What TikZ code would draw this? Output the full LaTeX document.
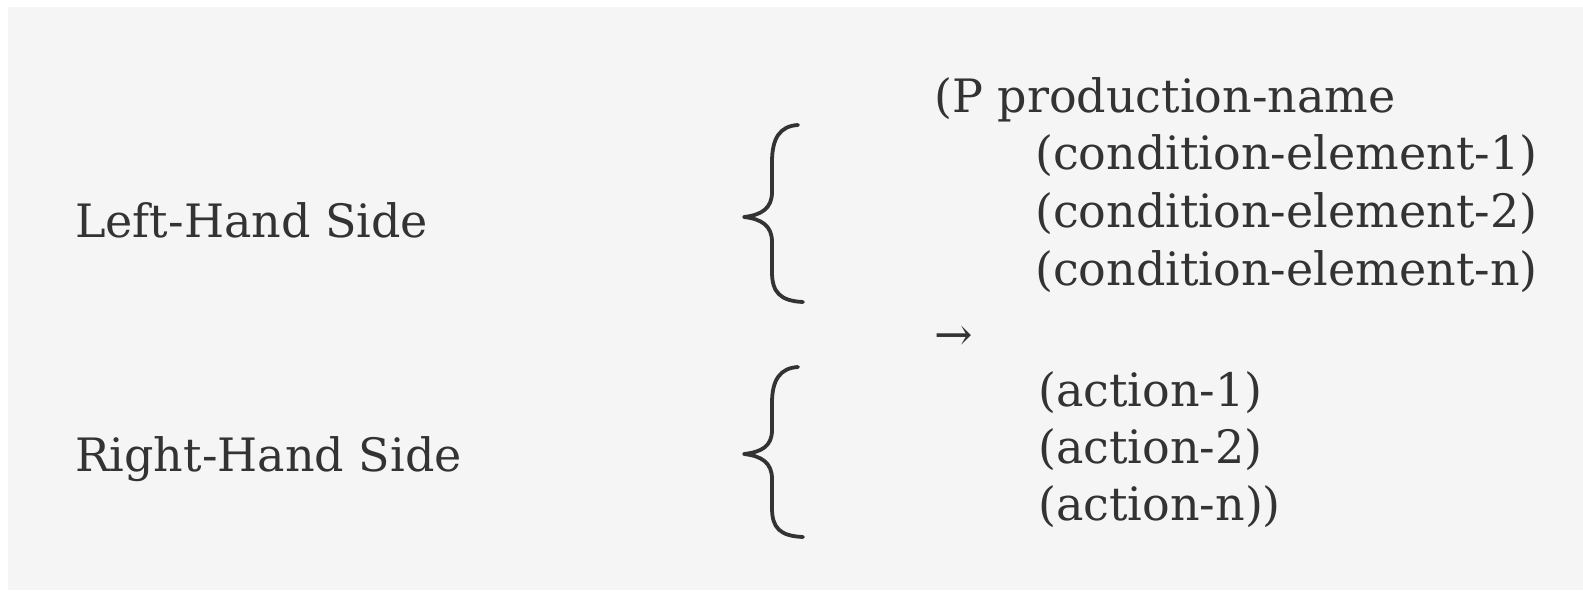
\documentclass[tikz,border=0pt]{standalone}
\usepackage{fontspec}
\setmainfont{DejaVu Serif}
\definecolor{ink}{HTML}{333333}
\definecolor{bg}{HTML}{F5F5F5}
\begin{document}
\begin{tikzpicture}[x=1pt,y=-1pt,
  txt/.style={anchor=base west, inner sep=0pt, text=ink, font=\fontsize{46}{54}\selectfont},
  bracestyle/.style={draw=ink, line width=3.8pt, line cap=round, line join=round}]
\useasboundingbox (0,0) rectangle (1583,590);
\fill[white] (0,0) rectangle (1583,590);
\fill[bg] (8,7) rectangle (1583,590);
% labels
\node[txt] (lhs) at (75,237) {Left-Hand Side};
\node[txt] (rhs) at (75,471) {Right-Hand Side};
% production text
\node[txt] (pname) at (934,112) {(P production-name};
\node[txt] (ce1) at (1035,169) {(condition-element-1)};
\node[txt] (ce2) at (1035,227) {(condition-element-2)};
\node[txt] (cen) at (1035,285) {(condition-element-n)};
\node[txt] (arr) at (934,350) {→};
\node[txt] (a1) at (1038,406) {(action-1)};
\node[txt] (a2) at (1038,463) {(action-2)};
\node[txt] (an) at (1038,520) {(action-n))};
% braces
\draw[bracestyle] (798,125) .. controls (780,126) and (772,138) .. (772,162)
  -- (772,192) .. controls (772,208) and (762,215) .. (744,217)
  .. controls (762,219) and (772,226) .. (772,242)
  -- (772,272) .. controls (772,292) and (780,301) .. (803,302);
\draw[bracestyle] (798,367) .. controls (780,368) and (772,380) .. (772,403)
  -- (772,430) .. controls (772,446) and (762,452) .. (744,454)
  .. controls (762,456) and (772,463) .. (772,479)
  -- (772,508) .. controls (772,528) and (780,536) .. (803,537);
\end{tikzpicture}
\end{document}
